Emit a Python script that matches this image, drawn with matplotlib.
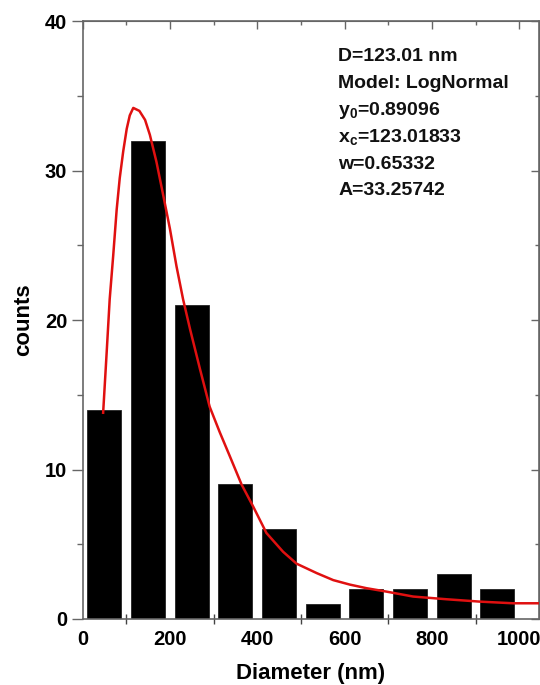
import numpy as np
import matplotlib
matplotlib.use("Agg")
import matplotlib.pyplot as plt
from matplotlib.ticker import MultipleLocator

plt.rcParams['font.family'] = ['Liberation Sans', 'DejaVu Sans']
plt.rcParams['mathtext.fontset'] = 'custom'
plt.rcParams['mathtext.rm'] = 'Liberation Sans'
plt.rcParams['mathtext.it'] = 'Liberation Sans:italic'
plt.rcParams['mathtext.bf'] = 'Liberation Sans:bold'

# histogram (bin centres in nm, counts)
bin_centers = [50, 150, 250, 350, 450, 550, 650, 750, 850, 950]
counts = [14, 32, 21, 9, 6, 1, 2, 2, 3, 2]

# fitted LogNormal curve
fit_x = [47, 55, 62, 70, 78, 85, 93, 101, 108, 116, 130, 143, 154, 169, 185,
         200, 215, 230, 246, 269, 291, 314, 337, 364, 391, 421, 459, 490, 536,
         574, 612, 650, 696, 757, 833, 910, 986, 1045]
fit_y = [13.8, 17.8, 21.4, 24.3, 27.4, 29.5, 31.3, 32.8, 33.7, 34.2, 34.0, 33.4,
         32.4, 30.6, 28.3, 26.1, 23.6, 21.4, 19.4, 16.7, 14.2, 12.5, 10.9, 9.0,
         7.5, 5.75, 4.5, 3.7, 3.07, 2.6, 2.3, 2.06, 1.83, 1.5, 1.32, 1.16, 1.05,
         1.05]

fit_text = [
    "D=123.01 nm",
    "Model: LogNormal",
    r"y$_\mathbf{0}$=0.89096",
    r"x$_\mathbf{c}$=123.01833",
    "w=0.65332",
    "A=33.25742",
]

SPINE = '#666666'

fig = plt.figure(figsize=(5.4, 6.85), dpi=100)
ax = fig.add_axes([0.153, 0.0964, 0.845, 0.8726])

ax.bar(bin_centers, counts, width=78, color='black', edgecolor='#222222',
       linewidth=0.6, zorder=2)
ax.plot(fit_x, fit_y, color='#e01010', linewidth=1.8, zorder=3)

ax.set_xlim(0, 1045)
ax.set_ylim(0, 40)

ax.xaxis.set_major_locator(MultipleLocator(200))
ax.xaxis.set_minor_locator(MultipleLocator(100))
ax.yaxis.set_major_locator(MultipleLocator(10))
ax.yaxis.set_minor_locator(MultipleLocator(5))

for s in ax.spines.values():
    s.set_color(SPINE)
    s.set_linewidth(1.2)

ax.tick_params(axis='x', which='major', length=0, pad=8, labelsize=14.5)
ax.tick_params(axis='x', which='minor', direction='inout', length=7,
               width=1.0, color='#444444')
ax.tick_params(axis='y', which='major', direction='out', length=8, width=1.0,
               color=SPINE, labelsize=14.5, pad=3)
ax.tick_params(axis='y', which='minor', direction='out', length=4, width=1.0,
               color=SPINE)
for lab in ax.get_xticklabels() + ax.get_yticklabels():
    lab.set_fontweight('bold')

# mirrored ticks on top and right, pointing inwards
top = ax.secondary_xaxis('top')
top.xaxis.set_major_locator(MultipleLocator(200))
top.xaxis.set_minor_locator(MultipleLocator(100))
top.tick_params(which='major', direction='in', length=6, width=1.0,
                color=SPINE, labeltop=False)
top.tick_params(which='minor', direction='in', length=3, width=1.0,
                color=SPINE)
top.spines['top'].set_color(SPINE)

right = ax.secondary_yaxis('right')
right.yaxis.set_major_locator(MultipleLocator(10))
right.yaxis.set_minor_locator(MultipleLocator(5))
right.tick_params(which='major', direction='in', length=6, width=1.0,
                  color=SPINE, labelright=False)
right.tick_params(which='minor', direction='in', length=3, width=1.0,
                  color=SPINE)
right.spines['right'].set_color(SPINE)

ax.set_xlabel("Diameter (nm)", fontsize=16, fontweight='bold', labelpad=10)
ax.set_ylabel("counts", fontsize=16, fontweight='bold', labelpad=8)

for i, line in enumerate(fit_text):
    ax.text(0.56, 0.941 - i * 0.045, line, transform=ax.transAxes,
            fontsize=14, fontweight='bold', va='center', ha='left',
            color='#111111')

fig.savefig("out.png", dpi=100)
